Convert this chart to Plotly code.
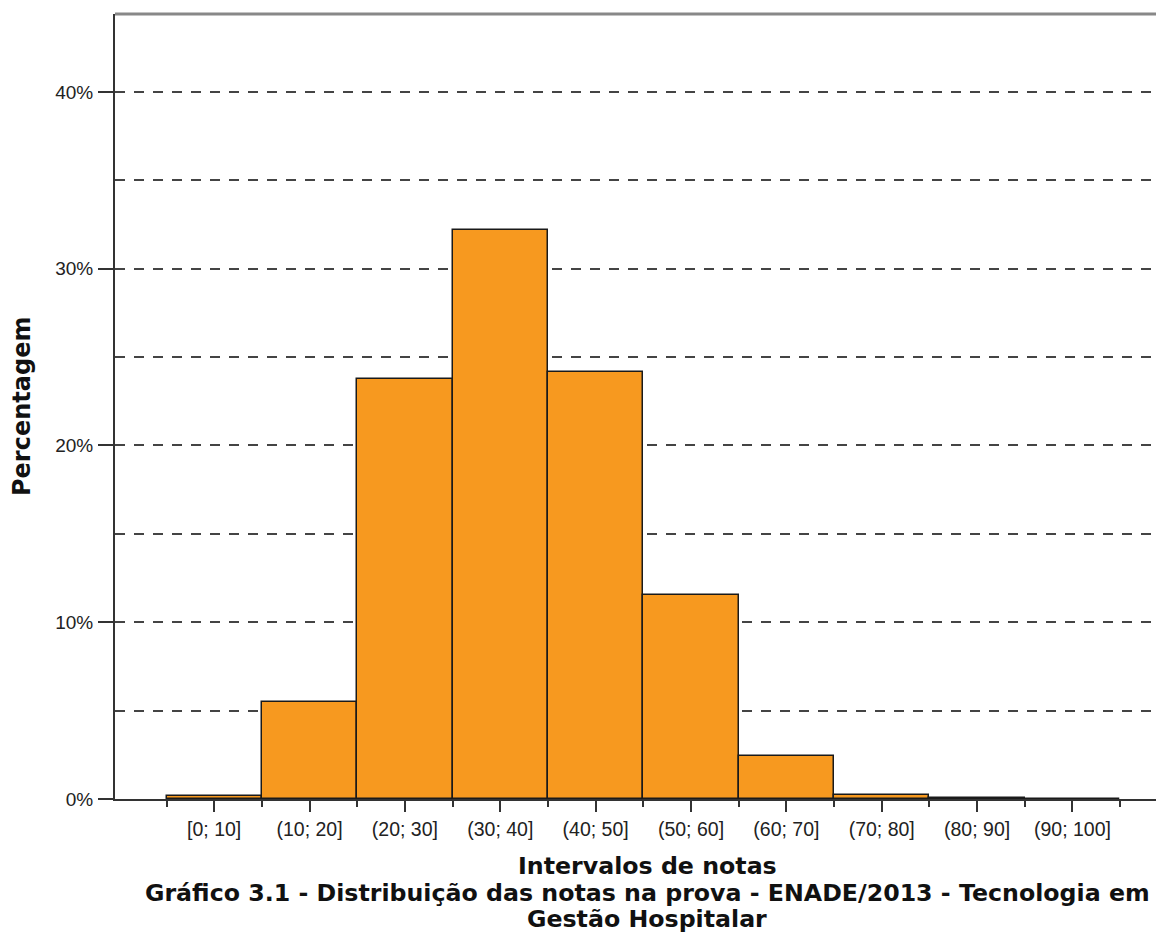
import plotly.graph_objects as go

categories = ["[0; 10]", "(10; 20]", "(20; 30]", "(30; 40]", "(40; 50]",
              "(50; 60]", "(60; 70]", "(70; 80]", "(80; 90]", "(90; 100]"]
percentages = [0.17, 5.47, 23.75, 32.17, 24.16, 11.52, 2.45, 0.25, 0.03, 0.02]
y_tick_vals = [0, 10, 20, 30, 40]
y_tick_text = ["0%", "10%", "20%", "30%", "40%"]
y_minor_vals = [5, 15, 25, 35]

x_pos = list(range(len(categories)))
edges = [i - 0.5 for i in range(len(categories) + 1)]

FONT = "Liberation Sans, Arial, sans-serif"
TFONT = "DejaVu Sans, sans-serif"

# page layout (browser body has an 8px margin)
OFF = 8
PL, PR, PT, PB = 115, 1164, 14, 799  # plot area in page pixels


def px(X):
    return (X - PL) / (PR - PL)


def py(Y):
    return (PB - Y) / (PB - PT)


fig = go.Figure()
fig.add_trace(go.Bar(
    x=x_pos, y=percentages, width=1.0,
    marker=dict(color="#F7991F", line=dict(color="#1a1a1a", width=1.5)),
    hoverinfo="skip",
))

fig.update_layout(
    width=1164 - OFF, height=942 - OFF,
    margin=dict(l=PL - OFF, r=0, t=PT - OFF, b=942 - PB, autoexpand=False),
    paper_bgcolor="white", plot_bgcolor="white",
    showlegend=False, bargap=0,
    font=dict(family=FONT, size=19, color="#222"),
    xaxis=dict(
        range=[-1.04, 9.96], tickmode="array", tickvals=x_pos, ticktext=categories,
        ticks="outside", ticklen=11, tickwidth=1.5, tickcolor="#333",
        showline=True, linecolor="#333", linewidth=2, showgrid=False, zeroline=False,
        tickfont=dict(family=FONT, size=19.5, color="#222"), ticklabelstandoff=1,
        minor=dict(tickmode="array", tickvals=edges, ticks="outside", ticklen=6,
                   tickwidth=1.5, tickcolor="#333", showgrid=False),
    ),
    yaxis=dict(
        range=[0, 44.41], tickmode="array", tickvals=y_tick_vals, ticktext=y_tick_text,
        ticks="outside", ticklen=15, tickwidth=1.5, tickcolor="#333",
        showline=True, linecolor="#333", linewidth=2, zeroline=False,
        showgrid=True, gridcolor="#444", gridwidth=1.6, griddash="10px,9px",
        tickfont=dict(family=FONT, size=19, color="#222"), ticklabelstandoff=1,
        minor=dict(tickmode="array", tickvals=y_minor_vals, ticks="", showgrid=True,
                   gridcolor="#444", gridwidth=1.6, griddash="10px,9px"),
    ),
)

# top frame line
fig.add_shape(type="line", xref="paper", yref="paper", x0=0, x1=1, y0=1, y1=1,
              line=dict(color="#888", width=3))

# y axis title
fig.add_annotation(text="Percentagem", xref="paper", yref="paper", x=px(22), y=py(407),
                   xanchor="center", yanchor="middle", textangle=-90, showarrow=False,
                   font=dict(family=TFONT, size=24, color="#111", weight="bold"))

# x axis title and chart title (bottom)
title_lines = [
    ("Intervalos de notas", 866),
    ("Gráfico 3.1 - Distribuição das notas na prova - ENADE/2013 - Tecnologia em", 893),
    ("Gestão Hospitalar", 919),
]
for txt, yy in title_lines:
    fig.add_annotation(text=txt, xref="paper", yref="paper",
                       x=px(647), y=py(yy), xanchor="center", yanchor="middle",
                       showarrow=False,
                       font=dict(family=TFONT, size=23.7, color="#111", weight="bold"))

fig.write_html("out.html")
